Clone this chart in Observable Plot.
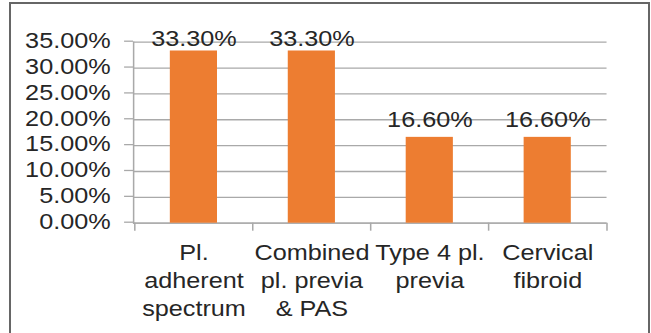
<!DOCTYPE html>
<html>
<head>
<meta charset="utf-8">
<script src="https://cdn.jsdelivr.net/npm/d3@7"></script>
<script src="https://cdn.jsdelivr.net/npm/@observablehq/plot@0.6"></script>
<style>
  html, body { margin: 0; padding: 0; background: #fff; }
  #wrap { position: relative; width: 651px; height: 333px; overflow: hidden; background: #fff; }
  #border { position: absolute; left: 9px; top: 2px; right: 1px; bottom: -6px; border: 2px solid #666; box-sizing: border-box; }
  #chart { position: absolute; left: 0; top: 0; transform-origin: 0 0; }
</style>
</head>
<body>
<div id="wrap"><div id="border"></div><div id="chart"></div></div>
<script>
// Data
const categories = ["Pl. adherent spectrum", "Combined pl. previa & PAS", "Type 4 pl. previa", "Cervical fibroid"];
const categoryLabels = ["Pl.\nadherent\nspectrum", "Combined\npl. previa\n& PAS", "Type 4 pl.\nprevia", "Cervical\nfibroid"];
const values = [0.333, 0.333, 0.166, 0.166];
const yTicks = [0, 0.05, 0.10, 0.15, 0.20, 0.25, 0.30, 0.35];

const data = categories.map((c, i) => ({cat: c, value: values[i]}));
const labelOf = new Map(categories.map((c, i) => [c, categoryLabels[i]]));
const pct = d3.format(".2%");

// Layout (design width is horizontally stretched to 651px)
const W = 552, H = 333;
const sx = 651 / W;
const mL = 112.8, mR = 37.7, mT = 41.7, mB = 110.3;
const step = (W - mL - mR) / categories.length;
const font = "'Liberation Sans', Arial, sans-serif";
const fs = 21.4;
const gray = "#a9a9a9";
const ink = "#262626";

const plot = Plot.plot({
  width: W, height: H,
  marginLeft: mL, marginRight: mR, marginTop: mT, marginBottom: mB,
  style: {fontFamily: font, fontSize: fs + "px", background: "transparent", overflow: "visible"},
  x: {domain: categories, paddingInner: 0.6, paddingOuter: 0.3, label: null},
  y: {domain: [0, 0.35], label: null},
  marks: [
    Plot.gridY(yTicks, {stroke: gray, strokeOpacity: 1, strokeWidth: 1.3}),
    Plot.frame({anchor: "left", stroke: gray, strokeWidth: 1.3}),
    Plot.ruleY([0], {stroke: gray, strokeWidth: 1.3}),
    Plot.axisY(yTicks, {label: null, tickFormat: pct, tickSize: 7.6, tickPadding: 11.9, stroke: gray, strokeWidth: 1.3, fill: ink, fontSize: fs, dy: -1}),
    Plot.axisX(categories, {label: null, tickSize: 8, tickFormat: () => "", dx: -step / 2, stroke: gray, strokeWidth: 1.3}),
    Plot.axisX([categories[categories.length - 1]], {label: null, tickSize: 8, tickFormat: () => "", dx: step / 2, stroke: gray, strokeWidth: 1.3}),
    Plot.axisX(categories, {label: null, tickSize: 0, tickPadding: 17.5, tickFormat: d => labelOf.get(d), lineHeight: 1.3, fill: ink, fontSize: fs}),
    Plot.barY(data, {x: "cat", y: "value", fill: "#ED7D31"}),
    Plot.text(data, {filter: d => d.value < 0.3, x: "cat", y: "value", text: d => pct(d.value), lineAnchor: "bottom", dy: -10.7, fill: ink, fontSize: fs}),
    Plot.text(data, {filter: d => d.value >= 0.3, x: "cat", y: "value", text: d => pct(d.value), lineAnchor: "bottom", dy: -4.5, fill: ink, fontSize: fs})
  ]
});
const chart = document.getElementById("chart");
chart.style.transform = `scaleX(${sx})`;
chart.appendChild(plot);
</script>
</body>
</html>
